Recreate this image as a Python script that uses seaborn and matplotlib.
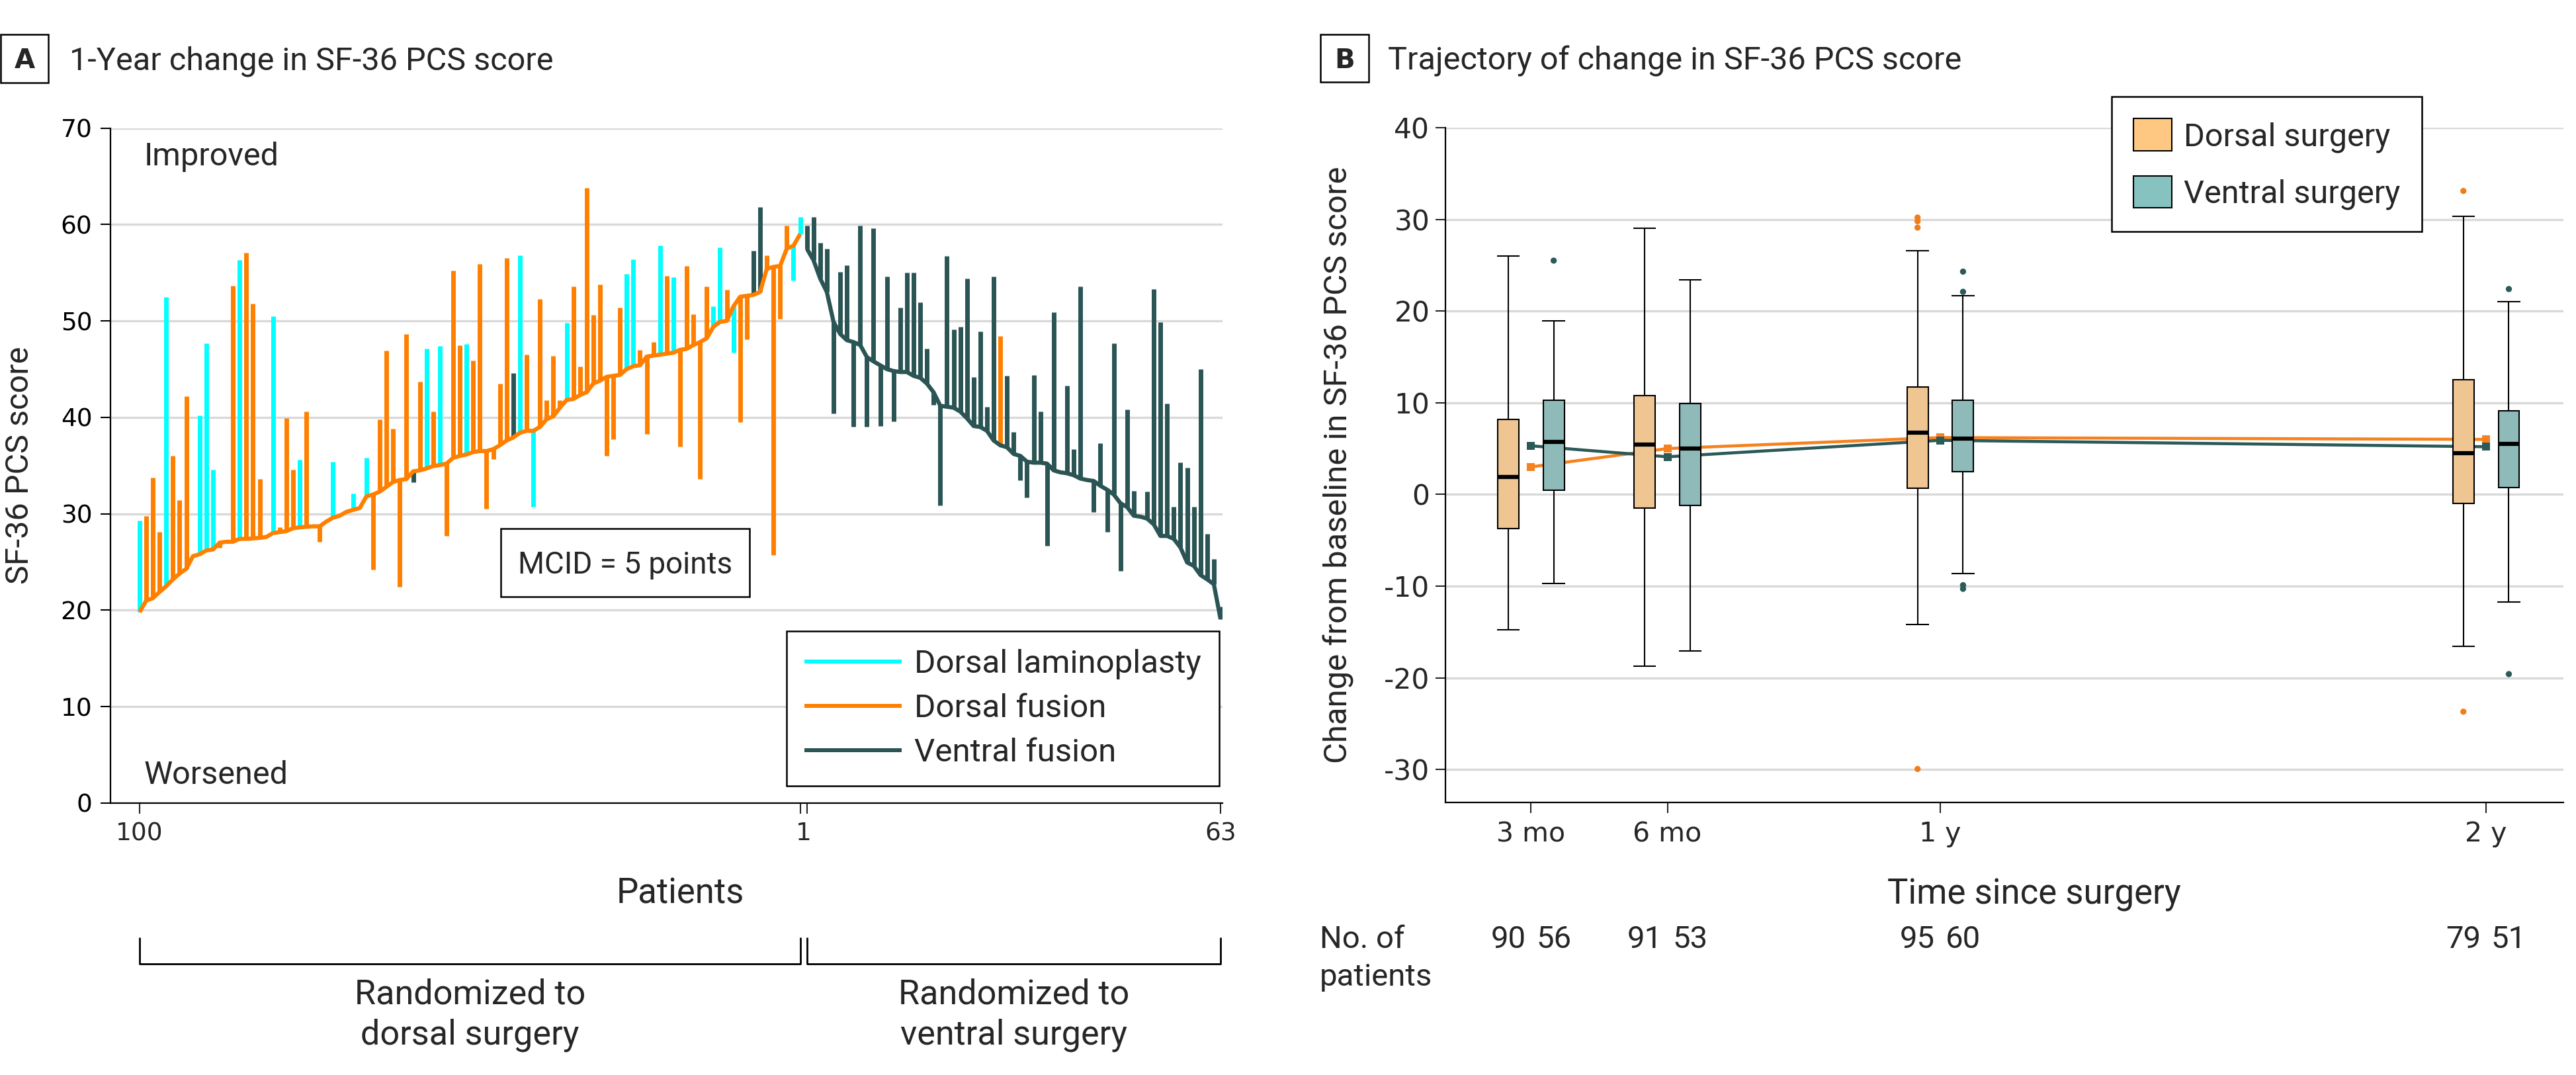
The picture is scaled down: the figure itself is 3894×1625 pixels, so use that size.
import numpy as np
import pandas as pd
import matplotlib
matplotlib.use("Agg")
import matplotlib.pyplot as plt
import matplotlib.transforms as mtransforms
from matplotlib.patches import Rectangle, Patch
from matplotlib.lines import Line2D
import seaborn as sns

# ---------------- data: panel A (SF-36 PCS per patient) ----------------
# dorsal arm, ordered left to right (patient 100 ... patient 1)
dorsal_baseline = [19.8, 21.0, 21.25, 21.9, 22.5, 23.2, 23.8, 24.3, 25.6, 25.8,
                   26.2, 26.3, 27.0, 27.1, 27.1, 27.4, 27.4, 27.45, 27.5, 27.6,
                   28.0, 28.1, 28.2, 28.5, 28.6, 28.65, 28.7, 28.7, 29.2, 29.6,
                   29.8, 30.2, 30.4, 30.6, 31.8, 32.0, 32.3, 32.8, 33.3, 33.5,
                   33.6, 34.4, 34.5, 34.7, 34.95, 35.05, 35.2, 35.8, 36.0, 36.15,
                   36.4, 36.5, 36.5, 36.7, 37.1, 37.6, 37.9, 38.4, 38.6, 38.6,
                   39.0, 39.8, 40.1, 41.0, 41.8, 41.9, 42.3, 42.6, 43.5, 43.8,
                   44.2, 44.3, 44.4, 45.0, 45.3, 45.4, 46.3, 46.4, 46.5, 46.6,
                   46.7, 47.0, 47.1, 47.5, 47.8, 48.2, 49.4, 49.9, 50.0, 51.5,
                   52.5, 52.6, 52.7, 53.0, 55.4, 55.6, 55.7, 57.5, 57.8, 59.0]
dorsal_1y = [29.3, 29.8, 33.75, 28.1, 52.5, 36.0, 31.4, 42.2, np.nan, 40.2,
             47.7, 34.6, 26.5, np.nan, 53.65, 56.3, 57.1, 51.8, 33.6, np.nan,
             50.5, 28.6, 39.9, 34.6, 35.6, 40.6, np.nan, 27.1, np.nan, 35.4,
             np.nan, np.nan, 32.1, np.nan, 35.8, 24.2, 39.8, 46.9, 38.8, 22.45,
             48.65, 33.3, 43.7, 47.1, 40.6, 47.4, 27.7, 55.2, 47.5, 47.6,
             45.9, 55.9, 30.5, 35.7, 43.5, 56.5, 44.6, 56.8, 46.5, 30.7,
             52.3, 41.8, 46.4, 41.8, 49.8, 53.6, 45.3, 63.8, 50.6, 53.8,
             36.0, 37.7, 51.4, 54.9, 56.4, 47.0, 38.3, 47.8, 57.8, 54.7,
             54.5, 37.0, 55.7, 50.7, 33.6, 53.6, 51.5, 57.6, 53.2, 46.7,
             39.5, 48.1, 57.3, 61.8, 56.8, 25.7, 50.2, 59.9, 54.2, 60.8]
dorsal_type = list("LFFFLFFFFL" "LLFFFLFFFF" "LFFFLFFFFL" "FFLFLFFFFF"
                   "FVFLFLFFFL" "FFFFFFVLFL" "FFFFLFFFFF" "FFFLLFFFLF"
                   "LFFFFFLLFL" "FFVVFFFFLL")

# ventral arm, ordered left to right (patient 1 ... patient 63)
ventral_baseline = [57.5, 56.3, 54.4, 53.0, 49.9, 48.65, 48.0, 47.8, 47.5, 46.25,
                    45.8, 45.4, 45.0, 44.8, 44.7, 44.7, 44.3, 44.1, 43.5, 42.6,
                    41.2, 41.1, 41.0, 40.6, 39.9, 39.1, 39.0, 38.6, 37.6, 37.1,
                    36.9, 36.2, 36.0, 35.4, 35.3, 35.3, 35.2, 34.5, 34.3, 34.2,
                    34.0, 33.65, 33.5, 33.4, 32.9, 32.5, 32.0, 31.1, 30.7, 29.8,
                    29.7, 29.5, 28.9, 27.7, 27.7, 27.4, 26.5, 24.95, 24.6, 23.65,
                    23.2, 22.7, 19.1]
ventral_1y = [59.9, 60.8, 58.1, 57.5, 40.4, 55.1, 55.8, 39.0, 59.9, 39.0,
              59.6, 39.1, 54.6, 39.6, 51.4, 55.0, 55.0, 51.9, 47.1, 41.3,
              30.9, 56.7, 49.1, 49.4, 54.4, 44.2, 48.9, 41.1, 54.6, 48.4,
              44.3, 38.5, 33.5, 31.7, 44.4, 40.6, 26.7, 50.9, np.nan, 43.3,
              36.7, 53.6, np.nan, 30.2, 37.3, 28.1, 47.7, 24.1, 40.8, 32.4,
              np.nan, 32.3, 53.3, 49.9, 41.4, 30.7, 35.3, 34.8, 30.7, 45.0,
              27.9, 25.3, 20.4]
ventral_type = ["V"] * 63
ventral_type[29] = "F"

type_labels = {"L": "Dorsal laminoplasty", "F": "Dorsal fusion", "V": "Ventral fusion"}

# ---------------- data: panel B (change from baseline) ----------------
months = [3, 6, 12, 24]
time_labels = ["3 mo", "6 mo", "1 y", "2 y"]
dorsal_whislo = [-14.8, -18.7, -14.2, -16.6]
dorsal_q1 = [-3.75, -1.5, 0.65, -1.0]
dorsal_med = [1.9, 5.45, 6.7, 4.5]
dorsal_q3 = [8.15, 10.8, 11.7, 12.5]
dorsal_whishi = [26.0, 29.0, 26.6, 30.3]
ventral_whislo = [-9.75, -17.1, -8.6, -11.75]
ventral_q1 = [0.45, -1.2, 2.45, 0.75]
ventral_med = [5.7, 5.0, 6.1, 5.5]
ventral_q3 = [10.25, 9.9, 10.25, 9.15]
ventral_whishi = [18.9, 23.4, 21.7, 21.0]
dorsal_mean = [3.0, 5.0, 6.2, 6.0]
ventral_mean = [5.3, 4.1, 5.9, 5.2]
dorsal_out_month = [12, 12, 12, 12, 24, 24]
dorsal_out_value = [30.2, 29.8, 29.1, -29.95, 33.1, -23.7]
ventral_out_month = [3, 12, 12, 12, 12, 24, 24]
ventral_out_value = [25.5, 24.3, 22.1, -9.9, -10.3, 22.4, -19.6]
dorsal_n = [90, 91, 95, 79]
ventral_n = [56, 53, 60, 51]

# ---------------- style ----------------
sns.set_theme(style="white")
FONT = ["Roboto", "DejaVu Sans"]
TICKFONT = ["DejaVu Sans"]
plt.rcParams["font.family"] = FONT
plt.rcParams["axes.unicode_minus"] = False
plt.rcParams["lines.solid_capstyle"] = "butt"

CYAN = "#00FFFF"
ORANGE = "#FF8000"
DARK = "#2B5555"
BOX_OR = "#FFC882"
BOX_TE = "#86C3C0"
LINE_OR = "#F5821F"
LINE_TE = "#2B5A59"
GRID = "#D9D9D9"

W, H, DPI = 3894, 1625, 100
fig = plt.figure(figsize=(W / DPI, H / DPI), dpi=DPI)
fig.patch.set_facecolor("white")


def fx(px):
    return px / W


def fy(py):
    return 1 - py / H


def style_axes(ax):
    for s in ["top", "right"]:
        ax.spines[s].set_visible(False)
    for s in ["left", "bottom"]:
        ax.spines[s].set_color("black")
        ax.spines[s].set_linewidth(1.6)
    ax.yaxis.grid(True, color=GRID, lw=2.4)
    ax.xaxis.grid(False)
    ax.set_axisbelow(True)


def panel_label(letter, x0, x1, y0, y1, title, tx):
    fig.add_artist(Rectangle((fx(x0), fy(y1)), (x1 - x0) / W, (y1 - y0) / H,
                             transform=fig.transFigure, fill=False, ec="black", lw=1.8))
    fig.text(fx((x0 + x1) / 2), fy(103), letter, ha="center", va="baseline",
             fontsize=29, fontweight="bold", family=TICKFONT)
    fig.text(fx(tx), fy(106), title, ha="left", va="baseline", fontsize=35, family=FONT)


# ================= Panel A =================
axA = fig.add_axes([fx(167), fy(1214), (1848 - 167) / W, (1214 - 193.5) / H])
style_axes(axA)

n_d, n_v = len(dorsal_baseline), len(ventral_baseline)
pos = np.arange(n_d + n_v)
base = np.r_[dorsal_baseline, ventral_baseline]
oneyr = np.r_[dorsal_1y, ventral_1y]
types = dorsal_type + ventral_type

seg = pd.DataFrame({"patient": np.r_[pos, pos], "x": np.r_[pos, pos],
                    "score": np.r_[base, oneyr], "type": types + types}).dropna()
sns.lineplot(data=seg, x="x", y="score", hue="type", units="patient", estimator=None,
             palette={"L": CYAN, "F": ORANGE, "V": DARK}, lw=5, legend=False,
             ax=axA, zorder=2)

bl = pd.DataFrame({"x": pos, "score": base, "arm": ["Dorsal"] * n_d + ["Ventral"] * n_v})
sns.lineplot(data=bl, x="x", y="score", hue="arm", palette={"Dorsal": ORANGE, "Ventral": DARK},
             lw=4.5, legend=False, ax=axA, zorder=3)

axA.set_xlim(-4.36, 162.3)
axA.set_ylim(0, 70)
axA.set_yticks(np.arange(0, 71, 10))
axA.set_xticks([0, n_d - 1, n_d, n_d + n_v - 1], labels=["100", "", "", str(n_v)])
axA.set_xticks([n_d - 0.5], labels=["1"], minor=True)
axA.tick_params(axis="y", length=10.8, width=1.5, pad=9, labelsize=27, left=True, colors="black")
axA.tick_params(axis="x", which="major", length=11.5, width=1.5, pad=9, labelsize=27, bottom=True)
axA.tick_params(axis="x", which="minor", length=0, pad=20.5, labelsize=27, bottom=True)
for lab in axA.get_xticklabels(which="both") + axA.get_yticklabels():
    lab.set_family(TICKFONT)
axA.set_xlabel("")
axA.set_ylabel("")

axA.text(0.7, (1214 - 250) / 14.58, "Improved", ha="left", va="baseline", fontsize=35)
axA.text(0.7, (1214 - 1185) / 14.58, "Worsened", ha="left", va="baseline", fontsize=35)

# MCID box
axA.add_patch(Rectangle((54.1, 21.4), 91.4 - 54.1, 28.5 - 21.4, fc="white", ec="black",
                        lw=1.8, zorder=4))
axA.text(72.75, (1214 - 867) / 14.58, "MCID = 5 points", ha="center", va="baseline",
         fontsize=33, zorder=5)

handlesA = [Line2D([], [], color=c, lw=4.3) for c in (CYAN, ORANGE, DARK)]
legA = axA.legend(handlesA, [type_labels[k] for k in "LFV"], loc="lower left",
                  bbox_to_anchor=(0.608, 0.0255), borderaxespad=0, fontsize=35.5,
                  frameon=True, fancybox=False, framealpha=1, edgecolor="black",
                  handlelength=2.97, handletextpad=0.4, borderpad=0.55, labelspacing=0.42)
legA.get_frame().set_linewidth(1.8)
legA.set_zorder(6)

fig.text(fx(167 + 10.086 * 4.36 + 10.086 * 81), fy(1365), "Patients", ha="center",
         va="baseline", fontsize=38)
fig.text(fx(30), fy(703), "SF-36 PCS score", rotation=90, ha="center", va="center",
         fontsize=35)

# brackets below panel A
transA = mtransforms.blended_transform_factory(axA.transData, fig.transFigure)
for a, b in [(0, n_d - 1), (n_d, n_d + n_v - 1)]:
    axA.plot([a, a, b, b], [fy(1417), fy(1457), fy(1457), fy(1417)], color="black",
             lw=2.0, transform=transA, clip_on=False, solid_capstyle="butt")
for xc, l1, l2 in [((n_d - 1) / 2, "Randomized to", "dorsal surgery"),
                   (n_d + (n_v - 1) / 2, "Randomized to", "ventral surgery")]:
    axA.text(xc, fy(1517), l1, transform=transA, ha="center", va="baseline", fontsize=37.5)
    axA.text(xc, fy(1578), l2, transform=transA, ha="center", va="baseline", fontsize=37.5)

panel_label("A", 1, 73, 52, 125, "1-Year change in SF-36 PCS score", 105)

# ================= Panel B =================
axB = fig.add_axes([fx(2185), fy(1213), (3875 - 2185) / W, (1213 - 193) / H])
style_axes(axB)

groups = ["Dorsal surgery", "Ventral surgery"]
rows = []
for k, m in enumerate(months):
    for g, off, st in [(groups[0], -0.5, (dorsal_whislo, dorsal_q1, dorsal_med, dorsal_q3, dorsal_whishi)),
                       (groups[1], 0.5, (ventral_whislo, ventral_q1, ventral_med, ventral_q3, ventral_whishi))]:
        for arr in st:
            rows.append((m + off, g, arr[k]))
box_df = pd.DataFrame(rows, columns=["pos", "group", "change"])

mean_df = pd.DataFrame({"month": months * 2, "mean": dorsal_mean + ventral_mean,
                        "group": [groups[0]] * 4 + [groups[1]] * 4})
sns.lineplot(data=mean_df, x="month", y="mean", hue="group", estimator=None,
             palette={groups[0]: LINE_OR, groups[1]: LINE_TE}, lw=3.3, marker="s",
             markersize=9, markeredgewidth=0, legend=False, ax=axB, zorder=2)

sns.boxplot(data=box_df, x="pos", y="change", hue="group", hue_order=groups,
            palette={groups[0]: BOX_OR, groups[1]: BOX_TE}, native_scale=True, dodge=False,
            width=0.465, whis=(0, 100), showfliers=False, linecolor="black", linewidth=1.5,
            medianprops={"linewidth": 4.5, "color": "black"}, capwidths=0.5,
            legend=False, ax=axB, zorder=3)

out_df = pd.DataFrame({"pos": [m - 0.5 for m in dorsal_out_month] + [m + 0.5 for m in ventral_out_month],
                       "value": dorsal_out_value + ventral_out_value,
                       "group": [groups[0]] * len(dorsal_out_value) + [groups[1]] * len(ventral_out_value)})
sns.scatterplot(data=out_df, x="pos", y="value", hue="group",
                palette={groups[0]: "#F07D1A", groups[1]: LINE_TE}, s=45, linewidth=0,
                legend=False, ax=axB, zorder=4)

axB.set_xlim(1.12, 25.7)
axB.set_ylim(-33.6, 40)
axB.set_yticks(np.arange(-30, 41, 10))
axB.set_xticks(months, labels=time_labels)
axB.tick_params(axis="y", length=11, width=1.5, pad=6, labelsize=30.5, left=True)
axB.tick_params(axis="x", length=11.5, width=1.5, pad=9, labelsize=29.5, bottom=True)
for lab in axB.get_xticklabels() + axB.get_yticklabels():
    lab.set_family(TICKFONT)
axB.set_xlabel("")
axB.set_ylabel("")

handlesB = [Patch(facecolor=BOX_OR, edgecolor="black", lw=1.5),
            Patch(facecolor=BOX_TE, edgecolor="black", lw=1.5)]
legB = axB.legend(handlesB, groups, loc="upper left", bbox_to_anchor=(0.5956, 1.046),
                  borderaxespad=0, fontsize=35, frameon=True, fancybox=False, framealpha=1,
                  edgecolor="black", handlelength=1.2, handleheight=1.17, handletextpad=0.37,
                  borderpad=0.68, labelspacing=0.72)
legB.get_frame().set_linewidth(1.8)

fig.text(fx(3075), fy(1366), "Time since surgery", ha="center", va="baseline", fontsize=38)
fig.text(fx(2023), fy(703), "Change from baseline in SF-36 PCS score", rotation=90,
         ha="center", va="center", fontsize=35.3)

transB = mtransforms.blended_transform_factory(axB.transData, fig.transFigure)
for k, m in enumerate(months):
    axB.text(m - 0.5, fy(1433), str(dorsal_n[k]), transform=transB, ha="center",
             va="baseline", fontsize=34)
    axB.text(m + 0.5, fy(1433), str(ventral_n[k]), transform=transB, ha="center",
             va="baseline", fontsize=34)
fig.text(fx(1995), fy(1433), "No. of", ha="left", va="baseline", fontsize=34)
fig.text(fx(1995), fy(1490), "patients", ha="left", va="baseline", fontsize=34)

panel_label("B", 1996, 2069, 52, 124, "Trajectory of change in SF-36 PCS score", 2098)

fig.savefig("out.png", dpi=DPI, facecolor="white")
